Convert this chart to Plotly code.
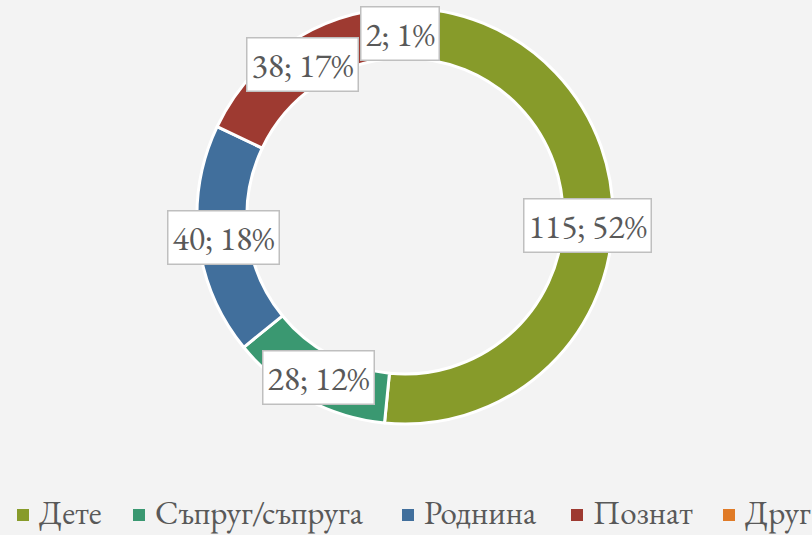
import math
import plotly.graph_objects as go

categories = ["Дете", "Съпруг/съпруга", "Роднина", "Познат", "Друг"]
values = [115, 28, 40, 38, 2]
percent_labels = ["52%", "12%", "18%", "17%", "1%"]
colors = ["#879b2a", "#3a9871", "#416f9c", "#9e3a31", "#e07b27"]

W, H = 812, 535
cx, cy = 405, 216
R_out = 208
hole = 0.76
FONT = "Garamond, 'EB Garamond', 'Liberation Serif', serif"

# legend layout (pixel positions of the legend squares)
legend_sq_x = [17, 133, 402, 571, 723]
legend_sq_size = 12
legend_sq_center = 515

fig = go.Figure(go.Pie(
    labels=categories,
    values=values,
    hole=hole,
    sort=False,
    direction="clockwise",
    rotation=0,
    marker=dict(colors=colors, line=dict(color="white", width=3)),
    textinfo="none",
    hoverinfo="label+value+percent",
    showlegend=False,
    domain=dict(x=[(cx - R_out) / W, (cx + R_out) / W],
                y=[1 - (cy + R_out) / H, 1 - (cy - R_out) / H]),
))

total = sum(values)
r_mid = R_out * (1 + hole) / 2
cum = 0
annotations = []
for v, p in zip(values, percent_labels):
    frac = (cum + v / 2) / total
    cum += v
    ang = 2 * math.pi * frac
    px = cx + r_mid * math.sin(ang)
    py = cy - r_mid * math.cos(ang)
    annotations.append(dict(
        x=px / W, y=1 - py / H, xref="paper", yref="paper",
        text=f"{v}; {p}", showarrow=False,
        font=dict(family=FONT, size=34, color="#595959"),
        bgcolor="white", bordercolor="#bfbfbf", borderwidth=1.5, borderpad=4,
        xanchor="center", yanchor="middle",
    ))

shapes = []
for name, col, sx in zip(categories, colors, legend_sq_x):
    shapes.append(dict(
        type="rect", xref="paper", yref="paper",
        x0=sx / W, x1=(sx + legend_sq_size) / W,
        y0=1 - (legend_sq_center + legend_sq_size / 2) / H,
        y1=1 - (legend_sq_center - legend_sq_size / 2) / H,
        fillcolor=col, line=dict(width=0),
    ))
    annotations.append(dict(
        x=(sx + legend_sq_size + 9) / W, y=0,
        xref="paper", yref="paper", text=name, showarrow=False,
        font=dict(family=FONT, size=33, color="#595959"),
        xanchor="left", yanchor="bottom", borderpad=0,
    ))

fig.update_layout(
    width=W, height=H,
    margin=dict(l=0, r=0, t=0, b=0),
    paper_bgcolor="#f3f3f3",
    plot_bgcolor="#f3f3f3",
    annotations=annotations,
    shapes=shapes,
    showlegend=False,
)

fig.write_html("out.html")
